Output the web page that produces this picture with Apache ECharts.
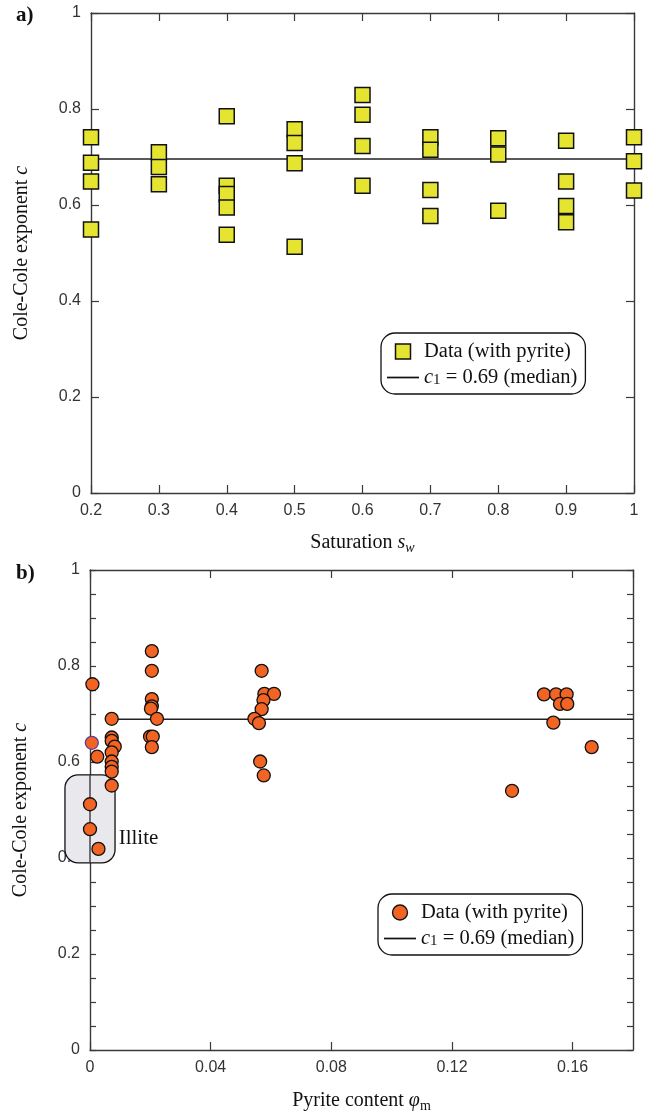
<!DOCTYPE html>
<html>
<head>
<meta charset="utf-8">
<script src="https://cdn.jsdelivr.net/npm/echarts@6/dist/echarts.min.js"></script>
<style>
html,body{margin:0;padding:0;background:#fff;}
#c{width:649px;height:1114px;}
</style>
</head>
<body>
<div id="c"></div>
<script>
// ---- Panel a) data: Cole-Cole exponent c vs saturation
const saturation = [0.2, 0.3, 0.4, 0.5, 0.6, 0.7, 0.8, 0.9, 1.0];
const cBySaturation = [
  [0.741, 0.688, 0.649, 0.549],
  [0.710, 0.679, 0.643],
  [0.785, 0.640, 0.623, 0.595, 0.538],
  [0.758, 0.729, 0.687, 0.513],
  [0.829, 0.788, 0.723, 0.640],
  [0.741, 0.715, 0.631, 0.577],
  [0.739, 0.705, 0.588],
  [0.734, 0.649, 0.598, 0.564],
  [0.741, 0.691, 0.630]
];
const medianTop = 0.696;
const medianTopRange = [0.2, 1.0];

// ---- Panel b) data: Cole-Cole exponent c vs pyrite content
const pyrite = [
  0.0008, 0.0024,
  0.0000, 0.0000, 0.0028,
  0.0072, 0.0072, 0.0072, 0.0082, 0.0072, 0.0072, 0.0072, 0.0072, 0.0072,
  0.0205, 0.0205, 0.0205, 0.0205, 0.0202, 0.0222, 0.0199, 0.0208, 0.0205,
  0.0569, 0.0578, 0.0610, 0.0575, 0.0569, 0.0545, 0.0560, 0.0564, 0.0576,
  0.1505, 0.1545, 0.1580, 0.1558, 0.1582, 0.1536, 0.1663, 0.1399
];
const cPyrite = [
  0.762, 0.611,
  0.512, 0.460, 0.419,
  0.690, 0.651, 0.644, 0.632, 0.620, 0.601, 0.590, 0.580, 0.551,
  0.831, 0.790, 0.731, 0.716, 0.711, 0.690, 0.653, 0.653, 0.631,
  0.790, 0.742, 0.742, 0.729, 0.710, 0.690, 0.681, 0.601, 0.572,
  0.741, 0.741, 0.741, 0.721, 0.721, 0.682, 0.631, 0.540
];
const highlightedPoint = [0.0006, 0.640];
const medianBottom = 0.689;
const medianBottomRange = [0.0072, 0.18];
const illiteBox = {x0: -0.0083, x1: 0.0083, y0: 0.390, y1: 0.573};
const illiteLabelAt = [0.0095, 0.44];

// ---- tick labels
const topXTicks = {min: 0.2, max: 1, interval: 0.1};
const bottomXTicks = {min: 0, max: 0.18, interval: 0.04};

const topData = [];
saturation.forEach((s, i) => cBySaturation[i].forEach(c => topData.push([s, c])));
const bottomData = pyrite.map((p, i) => [p, cPyrite[i]]);

const SERIF = "'Liberation Serif','DejaVu Serif',serif";
const SANS = "'Liberation Sans',Arial,sans-serif";
const AX = '#3a3a3a';

function fmt(v){ return String(Number(v.toFixed(2))); }

const nameStyle = {
  fontFamily: SERIF, fontSize: 20, color: '#111',
  rich: {
    n: {fontFamily: SERIF, fontSize: 20, color: '#111', lineHeight: 24},
    i: {fontFamily: SERIF, fontSize: 20, fontStyle: 'italic', color: '#111', lineHeight: 24},
    si: {fontFamily: SERIF, fontSize: 14, fontStyle: 'italic', color: '#111', lineHeight: 14, verticalAlign: 'bottom'},
    sn: {fontFamily: SERIF, fontSize: 14, color: '#111', lineHeight: 14, verticalAlign: 'bottom'}
  }
};

function axisBase(extra, tickLen){
  return Object.assign({
    type: 'value',
    splitLine: {show: false},
    axisLine: {show: true, onZero: false, lineStyle: {color: AX, width: 1.4}},
    axisTick: {show: true, inside: true, length: tickLen, lineStyle: {color: AX, width: 1.2}},
    axisLabel: {show: true, fontFamily: SANS, fontSize: 16, color: '#333', margin: 10, formatter: fmt}
  }, extra);
}

const legendRich = {
  i: {fontFamily: SERIF, fontSize: 20.5, fontStyle: 'italic', color: '#111'},
  s: {fontFamily: SERIF, fontSize: 15, color: '#111', verticalAlign: 'bottom'}
};
const legendNames = {
  topData: 'Data (with pyrite)',
  topMedian: '{i|c}{s|1} = 0.69 (median)',
  botData: 'Data (with pyrite)',
  botMedian: '{i|c}{s|1} = 0.69 (median)'
};
function legendBase(extra, names, dataStyle, dataIcon){
  return Object.assign({
    orient: 'vertical',
    selectedMode: false,
    borderColor: '#111', borderWidth: 1.3, borderRadius: 14,
    padding: [8, 8, 6, 6],
    itemWidth: 32, itemHeight: 15, itemGap: 5,
    textStyle: {fontFamily: SERIF, fontSize: 20.5, color: '#111', rich: legendRich},
    formatter: n => legendNames[n],
    data: [
      {name: names[0], icon: dataIcon, itemStyle: dataStyle},
      {name: names[1], icon: 'path://M0,0H28V1.5H0Z', itemStyle: {color: '#111', borderWidth: 0}}
    ]
  }, extra);
}

const option = {
  animation: false,
  backgroundColor: '#fff',
  grid: [
    {left: 91, top: 13, width: 543, height: 480},
    {left: 90, top: 570, width: 543, height: 480}
  ],
  xAxis: [
    axisBase({gridIndex: 0, position: 'bottom', min: topXTicks.min, max: topXTicks.max, interval: topXTicks.interval,
      name: '{n|Saturation }{i|s}{si|w}', nameLocation: 'middle', nameGap: 38, nameTextStyle: nameStyle}, 8),
    axisBase({gridIndex: 0, position: 'top', min: topXTicks.min, max: topXTicks.max, interval: topXTicks.interval,
      axisLabel: {show: false}}, 8),
    axisBase({gridIndex: 1, position: 'bottom', min: bottomXTicks.min, max: bottomXTicks.max, interval: bottomXTicks.interval,
      axisLabel: {show: true, fontFamily: SANS, fontSize: 16, color: '#333', margin: 10, formatter: fmt, showMaxLabel: false},
      name: '{n|Pyrite content }{i|φ}{sn|m}', nameLocation: 'middle', nameGap: 39, nameTextStyle: nameStyle}, 8),
    axisBase({gridIndex: 1, position: 'top', min: bottomXTicks.min, max: bottomXTicks.max, interval: bottomXTicks.interval,
      axisLabel: {show: false}}, 8)
  ],
  yAxis: [
    axisBase({gridIndex: 0, position: 'left', min: 0, max: 1, interval: 0.2,
      name: '{n|Cole-Cole exponent }{i|c}', nameLocation: 'middle', nameGap: 57, nameRotate: 90, nameTextStyle: nameStyle}, 8),
    axisBase({gridIndex: 0, position: 'right', min: 0, max: 1, interval: 0.2, axisLabel: {show: false}}, 8),
    axisBase({gridIndex: 1, position: 'left', min: 0, max: 1, interval: 0.05,
      axisLabel: {show: true, fontFamily: SANS, fontSize: 16, color: '#333', margin: 10,
        formatter: v => (Math.round(v * 100) % 20 === 0 ? fmt(v) : '')},
      name: '{n|Cole-Cole exponent }{i|c}', nameLocation: 'middle', nameGap: 57, nameRotate: 90, nameTextStyle: nameStyle}, 6),
    axisBase({gridIndex: 1, position: 'right', min: 0, max: 1, interval: 0.05, axisLabel: {show: false}}, 6)
  ],
  legend: [
    legendBase({left: 381, top: 333}, ['topData', 'topMedian'],
      {color: '#e4e431', borderColor: '#111', borderWidth: 1.5}, 'path://M0,0H10V10H0Z'),
    legendBase({left: 378, top: 894}, ['botData', 'botMedian'],
      {color: '#f26424', borderColor: '#111', borderWidth: 1.3}, 'circle')
  ],
  graphic: [
    {type: 'text', left: 16, top: 5, style: {text: 'a)', fontFamily: SERIF, fontWeight: 'bold', fontSize: 21, fill: '#111'}},
    {type: 'text', left: 16, top: 563, style: {text: 'b)', fontFamily: SERIF, fontWeight: 'bold', fontSize: 21, fill: '#111'}}
  ],
  series: [
    {name: 'topMedian', type: 'line', xAxisIndex: 0, yAxisIndex: 0, symbol: 'none', z: 2,
      itemStyle: {color: '#111'}, lineStyle: {color: '#222', width: 1.5},
      data: [[medianTopRange[0], medianTop], [medianTopRange[1], medianTop]]},
    {name: 'topData', type: 'scatter', xAxisIndex: 0, yAxisIndex: 0, symbol: 'rect', symbolSize: 15, z: 3, clip: false,
      itemStyle: {color: '#e4e431', borderColor: '#111', borderWidth: 1.5, opacity: 1},
      data: topData},
    {name: 'illite', type: 'custom', xAxisIndex: 2, yAxisIndex: 2, z: 1, clip: false, silent: true,
      data: [[illiteBox.x0, illiteBox.y0]],
      renderItem: function(params, api){
        const p0 = api.coord([illiteBox.x0, illiteBox.y1]);
        const p1 = api.coord([illiteBox.x1, illiteBox.y0]);
        const a0 = api.coord([0, illiteBox.y1]);
        const a1 = api.coord([0, illiteBox.y0]);
        const t = api.coord(illiteLabelAt);
        return {type: 'group', children: [
          {type: 'rect', shape: {x: p0[0], y: p0[1], width: p1[0] - p0[0], height: p1[1] - p0[1], r: 13},
            style: {fill: '#e9e9ed', stroke: '#111', lineWidth: 1.3}},
          {type: 'line', shape: {x1: a0[0], y1: a0[1], x2: a1[0], y2: a1[1]},
            style: {stroke: AX, lineWidth: 1.4}},
          {type: 'text', style: {text: 'Illite', x: t[0], y: t[1], verticalAlign: 'middle',
            fontFamily: SERIF, fontSize: 21, fill: '#111'}}
        ]};
      }},
    {name: 'botMedian', type: 'line', xAxisIndex: 2, yAxisIndex: 2, symbol: 'none', z: 2,
      itemStyle: {color: '#111'}, lineStyle: {color: '#222', width: 1.5},
      data: [[medianBottomRange[0], medianBottom], [medianBottomRange[1], medianBottom]]},
    {name: 'botData', type: 'scatter', xAxisIndex: 2, yAxisIndex: 2, symbol: 'circle', symbolSize: 13, z: 3, clip: false,
      itemStyle: {color: '#f26424', borderColor: '#111', borderWidth: 1.3, opacity: 1},
      data: bottomData.concat([{value: highlightedPoint, itemStyle: {borderColor: '#5b3f99'}}])}
  ]
};

const chart = echarts.init(document.getElementById('c'), null, {renderer: 'canvas'});
chart.setOption(option);
</script>
</body>
</html>
